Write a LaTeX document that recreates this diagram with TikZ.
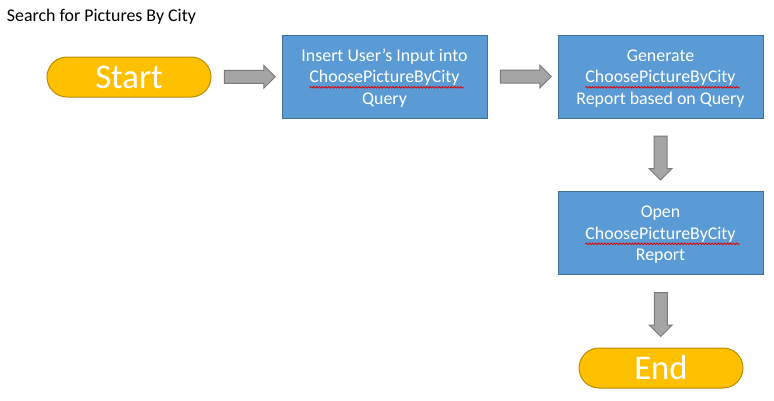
\documentclass[tikz,border=0pt]{standalone}
\usepackage{fontspec}
\setmainfont{Carlito}
\usetikzlibrary{shapes.arrows, decorations.pathmorphing}

\definecolor{azul}{HTML}{5B9BD5}
\definecolor{bordaazul}{HTML}{41719C}
\definecolor{laranja}{HTML}{FFC000}
\definecolor{bordalaranja}{HTML}{BC8C00}
\definecolor{cinza}{HTML}{A5A5A5}
\definecolor{bordacinza}{HTML}{7B7B7B}
\definecolor{vermelho}{HTML}{E00000}

\newlength\larguraonda

\begin{document}
\settowidth\larguraonda{\fontsize{13.4}{16.1}\selectfont ChoosePictureByCity}%
\begin{tikzpicture}[x=0.75pt, y=-0.75pt, line width=0.75pt,
    caixa/.style={draw=bordaazul, fill=azul, text=white, rectangle, align=center,
      minimum width=153.75pt, minimum height=62.25pt, inner sep=0pt,
      font=\fontsize{13.4}{16.1}\selectfont},
    terminal/.style={draw=bordalaranja, fill=laranja, text=white, rectangle,
      rounded corners=15pt, minimum width=123pt, minimum height=30pt, inner sep=0pt,
      font=\fontsize{26}{30}\selectfont},
    seta/.style={draw=bordacinza, fill=cinza, single arrow, single arrow head extend=3.75pt,
      inner xsep=0pt, inner ysep=4.5pt, minimum height=38.25pt},
    onda/.style={draw=vermelho, line width=0.6pt, decorate,
      decoration={snake, amplitude=0.6pt, segment length=2.3pt}}]
    \useasboundingbox (0,0) rectangle (774,400);

    % Titulo
    \node[anchor=base west, font=\fontsize{13.4}{16}\selectfont] (titulo) at (2,21.5) {Search for Pictures By City};

    % Nos do fluxo
    \node[terminal] (inicio) at (129,77) {Start};
    \node[caixa] (inserir) at (384.5,76.5) {\strut Insert User’s Input into\\ ChoosePictureByCity\\ Query};
    \node[caixa] (gerar) at (660.5,76.5) {\strut Generate\\ ChoosePictureByCity\\ Report based on Query};
    \node[caixa] (abrir) at (660.5,233) {\strut Open\\ ChoosePictureByCity\\ Report};
    \node[terminal] (fim) at (661,368) {End};

    % Sublinhado ondulado do corretor
    \foreach \n in {inserir, gerar, abrir}
      \draw[onda] ([xshift=-0.5\larguraonda, yshift=-8.1pt]\n.center) -- ([xshift=0.5\larguraonda+3pt, yshift=-8.1pt]\n.center);

    % Setas grossas entre os nos
    \path (inicio.east) -- node[seta] (s1) {} (inserir.west);
    \path (inserir.east) -- node[seta] (s2) {} (gerar.west);
    \path (gerar.south) -- node[seta, rotate=-90, minimum height=33pt] (s3) {} (abrir.north);
    \path (abrir.south) -- node[seta, rotate=-90, minimum height=33pt] (s4) {} (fim.north);
\end{tikzpicture}
\end{document}
